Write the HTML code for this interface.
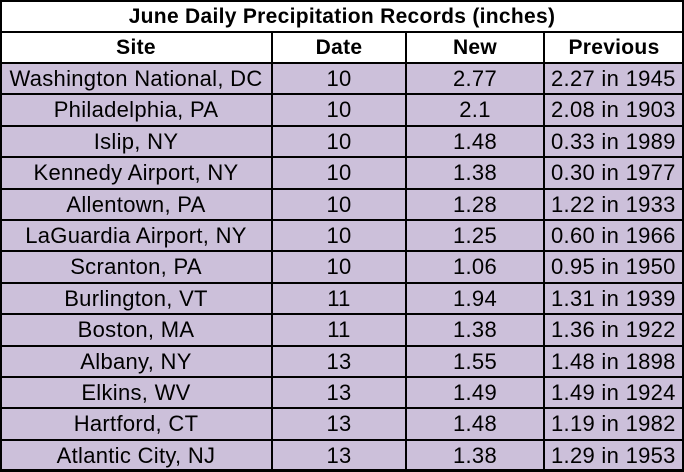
<!DOCTYPE html>
<html><head><style>
body{margin:0;width:684px;height:471px;overflow:hidden;background:#fff;font-family:"Liberation Sans",sans-serif;}
.c{position:absolute;box-sizing:border-box;display:flex;align-items:center;justify-content:center;font-size:22px;color:#000;white-space:nowrap;letter-spacing:0.3px;}
.l{justify-content:flex-start;padding-left:7px;}
.h{font-weight:bold;font-size:21px;}
.v{position:absolute;background:#000;}
</style></head><body>
<div id="t" style="position:absolute;left:0;top:0;width:684px;height:471px;"></div>
<script>
var t=document.getElementById('t');
var rows=[["Washington National, DC","10","2.77","2.27 in 1945"],["Philadelphia, PA","10","2.1","2.08 in 1903"],["Islip, NY","10","1.48","0.33 in 1989"],["Kennedy Airport, NY","10","1.38","0.30 in 1977"],["Allentown, PA","10","1.28","1.22 in 1933"],["LaGuardia Airport, NY","10","1.25","0.60 in 1966"],["Scranton, PA","10","1.06","0.95 in 1950"],["Burlington, VT","11","1.94","1.31 in 1939"],["Boston, MA","11","1.38","1.36 in 1922"],["Albany, NY","13","1.55","1.48 in 1898"],["Elkins, WV","13","1.49","1.49 in 1924"],["Hartford, CT","13","1.48","1.19 in 1982"],["Atlantic City, NJ","13","1.38","1.29 in 1953"]];
var xs=[0,272,406,544,684];
var h='';
function cell(x,y,w,hh,txt,cls,bg){h+='<div class="c '+cls+'" style="left:'+x+'px;top:'+y+'px;width:'+w+'px;height:'+hh+'px;background:'+bg+'">'+txt+'</div>';}
cell(0,0,684,33,"June Daily Precipitation Records (inches)","h","#fff");
var hd=["Site","Date","New","Previous"];
for(var j=0;j<4;j++)cell(xs[j],32,xs[j+1]-xs[j],32,hd[j],"h","#fff");
var y0=63,rh=31.4;
for(var i=0;i<13;i++){var y=Math.round(y0+i*rh),y2=Math.round(y0+(i+1)*rh);
 for(var j=0;j<4;j++){cell(xs[j],y,xs[j+1]-xs[j],y2-y,rows[i][j],j==3?"l":"", "#ccc0da");}}
function line(x,y,w,hh){h+='<div class="v" style="left:'+x+'px;top:'+y+'px;width:'+w+'px;height:'+hh+'px"></div>';}
line(0,0,684,2);line(0,469,684,2);line(0,0,2,471);line(682,0,2,471);
line(0,31,684,2);
for(var i=0;i<=13;i++){line(0,Math.round(y0+i*rh)-1,684,2);}
for(var j=1;j<4;j++)line(xs[j]-1,32,2,439);
t.innerHTML=h;
</script>
</body></html>
